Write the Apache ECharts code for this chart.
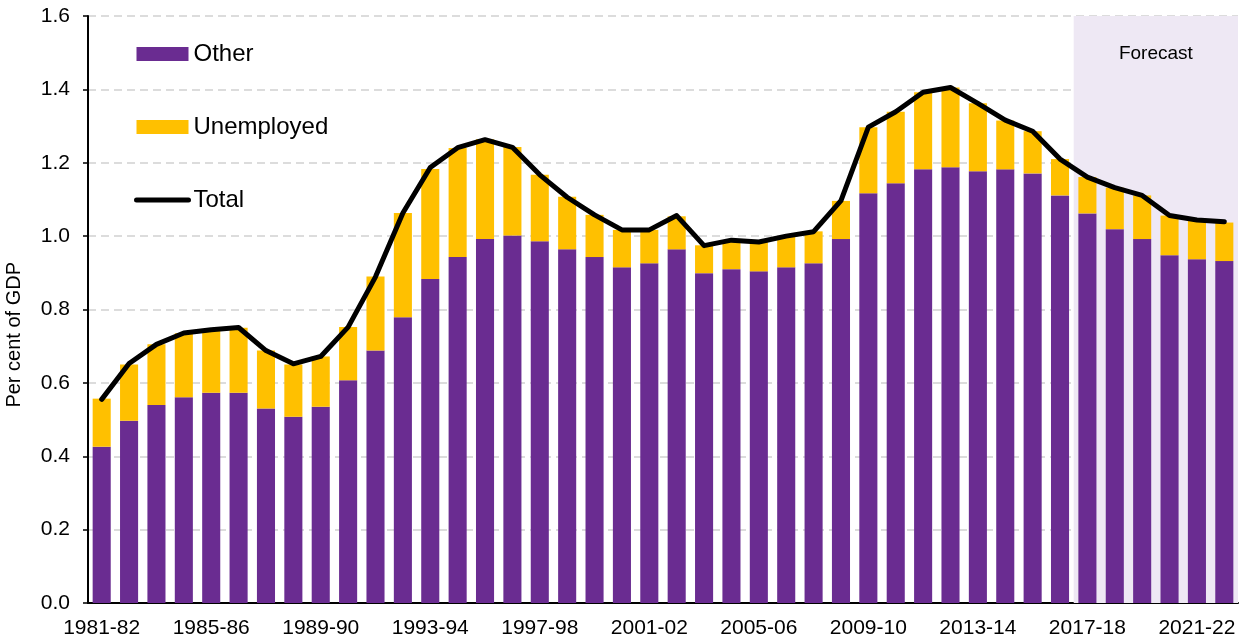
<!DOCTYPE html>
<html lang="en">
<head>
    <meta charset="UTF-8">
    <title>Per cent of GDP</title>
    <script src="https://cdn.jsdelivr.net/npm/echarts@6.0.0/dist/echarts.min.js"></script>
</head>
<body style="margin: 0; background-color: white;">
<div id="chart" style="width: 1247px; height: 643px;"></div>

<script>
    // categories: 1981-82 .. 2022-23
    const years = [
        '1981-82', '1982-83', '1983-84', '1984-85', '1985-86', '1986-87', '1987-88', '1988-89',
        '1989-90', '1990-91', '1991-92', '1992-93', '1993-94', '1994-95', '1995-96', '1996-97',
        '1997-98', '1998-99', '1999-00', '2000-01', '2001-02', '2002-03', '2003-04', '2004-05',
        '2005-06', '2006-07', '2007-08', '2008-09', '2009-10', '2010-11', '2011-12', '2012-13',
        '2013-14', '2014-15', '2015-16', '2016-17', '2017-18', '2018-19', '2019-20', '2020-21',
        '2021-22', '2022-23'
    ];

    const other = [
        0.426, 0.497, 0.540, 0.561, 0.573, 0.573, 0.530, 0.508, 0.535, 0.607,
        0.688, 0.779, 0.883, 0.943, 0.992, 1.002, 0.986, 0.964, 0.943, 0.915,
        0.926, 0.964, 0.899, 0.910, 0.904, 0.915, 0.926, 0.992, 1.117, 1.144,
        1.182, 1.188, 1.177, 1.182, 1.171, 1.111, 1.062, 1.019, 0.992, 0.948,
        0.937, 0.932
    ];

    const unemployed = [
        0.131, 0.153, 0.165, 0.174, 0.172, 0.177, 0.158, 0.142, 0.137, 0.145,
        0.202, 0.284, 0.300, 0.297, 0.272, 0.241, 0.181, 0.143, 0.115, 0.102,
        0.091, 0.090, 0.076, 0.079, 0.080, 0.085, 0.087, 0.104, 0.180, 0.195,
        0.210, 0.217, 0.185, 0.133, 0.115, 0.099, 0.099, 0.113, 0.119, 0.108,
        0.107, 0.105
    ];

    const total = [
        0.555, 0.653, 0.705, 0.736, 0.745, 0.751, 0.688, 0.652, 0.672, 0.752,
        0.889, 1.063, 1.187, 1.241, 1.263, 1.242, 1.167, 1.106, 1.058, 1.017,
        1.017, 1.056, 0.974, 0.989, 0.984, 1.000, 1.012, 1.097, 1.297, 1.339,
        1.392, 1.405, 1.362, 1.316, 1.286, 1.210, 1.161, 1.132, 1.111, 1.056,
        1.044, 1.039
    ];

    const yTicks = [0, 0.2, 0.4, 0.6, 0.8, 1.0, 1.2, 1.4, 1.6];

    // forecast period starts at 2017-18
    const forecastStart = years.indexOf('2017-18');

    const FONT = 'Liberation Sans';
    const chart = echarts.init(document.getElementById('chart'));

    const option = {
        animation: false,
        textStyle: { fontFamily: FONT },
        grid: { left: 88, right: 9, top: 16, bottom: 40 },
        legend: {
            orient: 'vertical',
            left: 129,
            top: 37,
            itemWidth: 52,
            itemHeight: 14,
            itemGap: 49,
            textStyle: { fontSize: 24, lineHeight: 24, color: '#000', fontFamily: FONT },
            data: [
                { name: 'Other', icon: 'rect' },
                { name: 'Unemployed', icon: 'rect' },
                {
                    name: 'Total',
                    itemStyle: { opacity: 0 },
                    lineStyle: { width: 5, cap: 'round', color: '#000' }
                }
            ]
        },
        graphic: [{
            type: 'text',
            left: 4,
            top: 262,
            rotation: Math.PI / 2,
            style: {
                text: 'Per cent of GDP',
                font: '20px "Liberation Sans"',
                fill: '#000'
            }
        }],
        xAxis: [
            {
                type: 'category',
                data: years,
                boundaryGap: true,
                axisLine: { lineStyle: { color: '#000', width: 2 } },
                axisTick: { interval: 0, length: 6, lineStyle: { color: '#000', width: 2 } },
                axisLabel: { interval: 3, fontSize: 21, color: '#000', margin: 15 },
                splitLine: { show: false }
            },
            {
                type: 'value',
                min: 0,
                max: years.length,
                show: false
            }
        ],
        yAxis: {
            type: 'value',
            min: yTicks[0],
            max: yTicks[yTicks.length - 1],
            interval: 0.2,
            axisLine: { show: true, lineStyle: { color: '#000', width: 2 } },
            axisTick: { show: true, length: 5, lineStyle: { color: '#000', width: 1.5 } },
            axisLabel: {
                fontSize: 21,
                color: '#000',
                margin: 18,
                formatter: v => v.toFixed(1)
            },
            splitLine: { lineStyle: { color: '#dcdcdc', type: [8, 5], width: 2 } }
        },
        series: [
            {
                name: 'Forecast',
                type: 'line',
                xAxisIndex: 1,
                data: [],
                silent: true,
                z: 0,
                markArea: {
                    silent: true,
                    itemStyle: { color: '#EEE8F4' },
                    label: {
                        show: true,
                        position: 'insideTop',
                        distance: 28,
                        color: '#000',
                        fontSize: 19,
                        fontFamily: FONT
                    },
                    data: [[
                        { name: 'Forecast', xAxis: forecastStart, yAxis: yTicks[yTicks.length - 1] },
                        { xAxis: years.length, yAxis: yTicks[0] }
                    ]]
                }
            },
            {
                name: 'Other',
                type: 'bar',
                stack: 'gdp',
                barCategoryGap: '34%',
                itemStyle: { color: '#6A2C91' },
                data: other
            },
            {
                name: 'Unemployed',
                type: 'bar',
                stack: 'gdp',
                itemStyle: { color: '#FFC000' },
                data: unemployed
            },
            {
                name: 'Total',
                type: 'line',
                symbol: 'none',
                z: 5,
                itemStyle: { color: '#000' },
                lineStyle: { color: '#000', width: 5, cap: 'round', join: 'round' },
                data: total
            }
        ]
    };

    chart.setOption(option);
</script>
</body>
</html>
